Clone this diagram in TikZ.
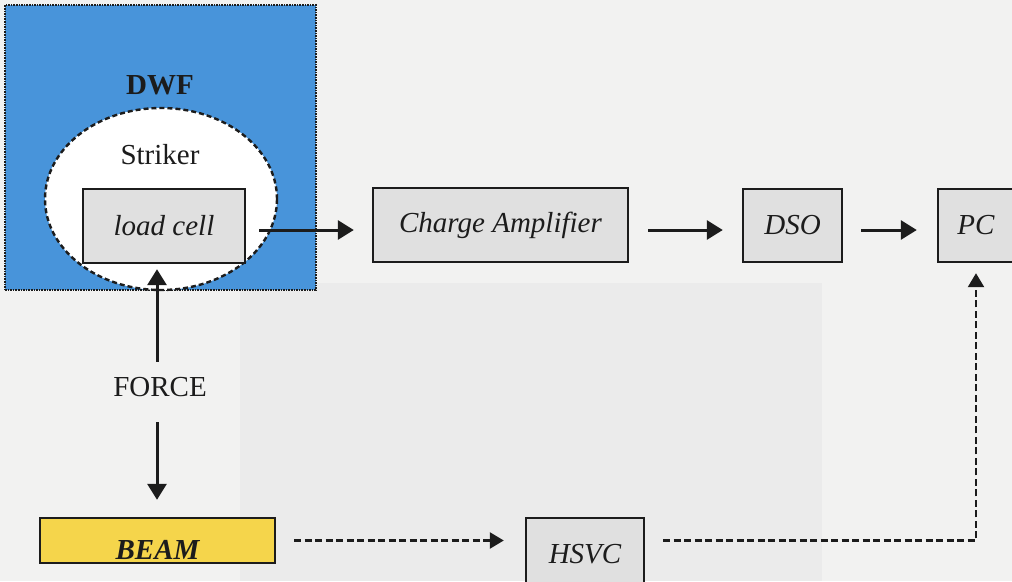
\documentclass[tikz,border=0pt]{standalone}
\usepackage{fontspec}
\setmainfont{Liberation Serif}
\usetikzlibrary{arrows.meta}
\definecolor{paper}{RGB}{242,242,241}
\definecolor{photo}{RGB}{235,235,235}
\definecolor{dwfblue}{RGB}{72,148,218}
\definecolor{beamyellow}{RGB}{245,213,75}
\definecolor{boxgray}{RGB}{224,224,224}
\definecolor{ink}{RGB}{28,28,28}
\begin{document}
\begin{tikzpicture}[x=1pt,y=-1pt,
  every node/.style={font=\fontsize{29}{34}\selectfont, text=ink},
  blockbox/.style={draw=ink, line width=2.4pt, fill=boxgray, inner sep=0pt},
  arr/.style={draw=ink, line width=3pt, -{Triangle[length=16pt,width=19pt]}},
  darr/.style={draw=ink, line width=2.4pt, dash pattern=on 7pt off 3.5pt,
               -{Triangle[length=14pt,width=16pt]}}]

  \useasboundingbox (0,0) rectangle (1012,581);
  \clip (0,0) rectangle (1012,581);

  % page and faint photograph area behind the diagram
  \fill[paper] (0,0) rectangle (1012,581);
  \fill[photo] (240,283) rectangle (822,581);

  % drop-weight frame with the striker inside
  \node[draw=ink, densely dotted, line width=1.6pt, fill=dwfblue,
        minimum width=311, minimum height=285, inner sep=0pt] (dwf) at (160.5,147.5) {};
  \node[font=\fontsize{29}{34}\selectfont\bfseries] (dwflabel) at (160,85) {DWF};
  \draw[draw=ink, line width=2.4pt, dash pattern=on 5pt off 3pt, fill=white]
        (161,199) ellipse [x radius=116, y radius=91];
  \node (striker) at (160,155) {Striker};

  % signal chain
  \node[blockbox, minimum width=162, minimum height=74] (lc) at (164,226) {\itshape load cell};
  \node[blockbox, minimum width=255, minimum height=74] (ca) at (500.5,225) {\itshape Charge Amplifier};
  \node[blockbox, minimum width=99,  minimum height=73] (dso) at (792.5,225.5) {\itshape DSO};
  \node[blockbox, minimum width=76,  minimum height=73] (pc) at (976,225.5) {\itshape PC};

  \draw[arr, shorten <=13pt, shorten >=18pt] (lc.east |- 0,230) -- (ca.west |- 0,230);
  \draw[arr, shorten <=19pt, shorten >=19pt] (ca.east |- 0,230) -- (dso.west |- 0,230);
  \draw[arr, shorten <=18pt, shorten >=20pt] (dso.east |- 0,230) -- (pc.west |- 0,230);

  % force path to the beam
  \node[minimum height=50, inner sep=0pt] (force) at (160,387) {FORCE};
  \node[draw=ink, line width=2.4pt, fill=beamyellow, minimum width=235,
        minimum height=45, inner sep=0pt] (beam) at (157.5,540.5) {};
  \node[font=\fontsize{29}{34}\selectfont\bfseries\itshape] (beamlabel)
        at ([yshift=-9pt]beam.center) {BEAM};

  \draw[arr, shorten >=5pt] (force.north -| 157,0) -- (lc.south -| 157,0);
  \draw[arr, shorten <=10pt, shorten >=17pt] (force.south -| 157,0) -- (beam.north -| 157,0);

  % high-speed video camera
  \node[blockbox, minimum width=118, minimum height=72] (hsvc) at (585,554) {\itshape HSVC};
  \draw[darr, shorten <=18pt, shorten >=21pt] (beam.east) -- (hsvc.west |- beam.east);
  \draw[darr, shorten <=18pt, shorten >=10pt]
        (hsvc.east |- beam.east) -- (pc.south |- beam.east) -- (pc.south);
\end{tikzpicture}
\end{document}
